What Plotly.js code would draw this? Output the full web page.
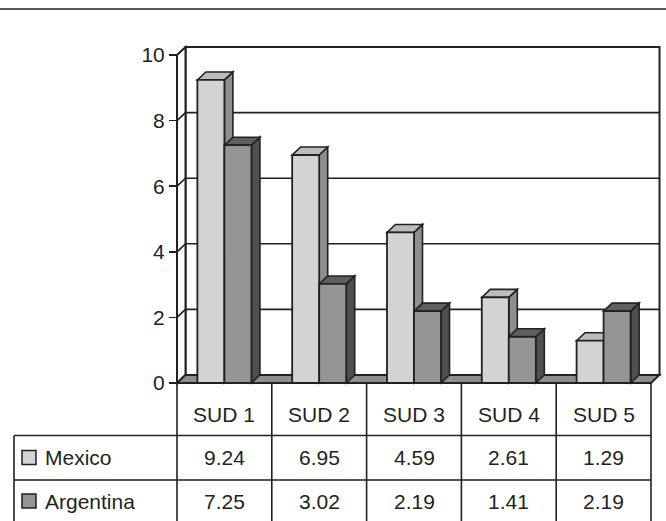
<!DOCTYPE html>
<html>
<head>
<meta charset="utf-8">
<script src="https://cdn.plot.ly/plotly-3.0.1.min.js"></script>
<style>
  html, body { margin: 0; padding: 0; background: #fff; }
  #chart { width: 666px; height: 521px; }
</style>
</head>
<body>
<div id="chart"></div>
<script>
// ---- data ----
const categories = ['SUD 1', 'SUD 2', 'SUD 3', 'SUD 4', 'SUD 5'];
const mexico = [9.24, 6.95, 4.59, 2.61, 1.29];
const argentina = [7.25, 3.02, 2.19, 1.41, 2.19];
const seriesNames = ['Mexico', 'Argentina'];
const yTicks = [0, 2, 4, 6, 8, 10];

// ---- styling ----
const EDGE = '#222022';
const TEXT = '#231f20';
const FONT = 'Liberation Sans, Arial, sans-serif';
const FONT_SIZE = 21;
const palette = [
  { front: '#d3d3d5', top: '#bcbcbe', side: '#8e8e90' },
  { front: '#959597', top: '#5f5f61', side: '#4f4f51' }
];
const FLOOR = '#8e8e90';

// ---- geometry (pixels) ----
const W = 666, H = 521;
const FRONT_L = 177, FRONT_R = 651;     // front edge of the plot box
const BASE_Y = 383, TOP_Y = 55;          // front y of value 0 and of the max tick
const YMAX = 10;
const DEPTH_X = 8.5, DEPTH_Y = 8;        // 3-D depth offset
const PAD = 5;
const BAR_W = 0.285;                     // width of one bar, in category units

const N = categories.length;
const catPx = (FRONT_R - FRONT_L) / N;
const unitPx = (BASE_Y - TOP_Y) / YMAX;
const DX = DEPTH_X / catPx, DY = DEPTH_Y / unitPx;
const X0 = -0.5, X1 = N - 0.5;
const xRange = [X0 - PAD / catPx, X1 + (DEPTH_X + PAD) / catPx];
const yRange = [-PAD / unitPx, YMAX + (DEPTH_Y + PAD) / unitPx];
const xDomain = [(FRONT_L - PAD) / W, (FRONT_R + DEPTH_X + PAD) / W];
const yDomain = [(H - BASE_Y - PAD) / H, (H - TOP_Y + DEPTH_Y + PAD) / H];

const idx = categories.map((_, i) => i);
const seriesValues = [mexico, argentina];
const offsets = [-BAR_W, 0];

const xToPaper = v => xDomain[0] + (v - xRange[0]) / (xRange[1] - xRange[0]) * (xDomain[1] - xDomain[0]);
const pyPaper = p => (H - p) / H;
const pxPaper = p => p / W;

// ---- front faces of the bars ----
const traces = seriesValues.map((vals, s) => ({
  type: 'bar',
  name: seriesNames[s],
  x: idx,
  y: vals,
  width: BAR_W,
  offset: offsets[s],
  marker: { color: palette[s].front, line: { color: EDGE, width: 1.8 } },
  hoverinfo: 'skip'
}));

// ---- box: walls, floor, gridlines ----
const shapes = [];
const pathOf = pts => 'M ' + pts.map(p => p[0] + ',' + p[1]).join(' L ') + ' Z';
const openPath = pts => 'M ' + pts.map(p => p[0] + ',' + p[1]).join(' L ');

shapes.push({ type: 'rect', xref: 'x', yref: 'y', layer: 'below',
  x0: X0 + DX, x1: X1 + DX, y0: DY, y1: YMAX + DY,
  fillcolor: '#ffffff', line: { color: EDGE, width: 2 } });
shapes.push({ type: 'path', xref: 'x', yref: 'y', layer: 'below',
  path: pathOf([[X0, 0], [X0 + DX, DY], [X0 + DX, YMAX + DY], [X0, YMAX]]),
  fillcolor: '#ffffff', line: { color: EDGE, width: 2 } });
yTicks.filter(v => v > 0 && v < YMAX).forEach(v => {
  shapes.push({ type: 'path', xref: 'x', yref: 'y', layer: 'below',
    path: openPath([[X0, v], [X0 + DX, v + DY], [X1 + DX, v + DY]]),
    line: { color: EDGE, width: 1.6 } });
});
shapes.push({ type: 'path', xref: 'x', yref: 'y', layer: 'below',
  path: pathOf([[X0, 0], [X1, 0], [X1 + DX, DY], [X0 + DX, DY]]),
  fillcolor: FLOOR, line: { color: EDGE, width: 1.8 } });
shapes.push({ type: 'line', xref: 'x', yref: 'y', layer: 'below',
  x0: X0, x1: X0, y0: 0, y1: YMAX, line: { color: EDGE, width: 2 } });

// ---- top and side faces of the bars ----
seriesValues.forEach((vals, s) => {
  vals.forEach((h, k) => {
    const xl = k + offsets[s], xr = xl + BAR_W;
    shapes.push({ type: 'path', xref: 'x', yref: 'y', layer: 'below',
      path: pathOf([[xr, 0], [xr + DX, DY], [xr + DX, h + DY], [xr, h]]),
      fillcolor: palette[s].side, line: { color: EDGE, width: 1.6 } });
    shapes.push({ type: 'path', xref: 'x', yref: 'y', layer: 'below',
      path: pathOf([[xl, h], [xr, h], [xr + DX, h + DY], [xl + DX, h + DY]]),
      fillcolor: palette[s].top, line: { color: EDGE, width: 1.6 } });
  });
});

// ---- data table under the plot ----
const HEAD_TOP = BASE_Y, HEAD_BOT = 435.5, ROW1_BOT = 480, TABLE_BOT = H + 4;
const TABLE_L = 14;
const rowCenters = [457.5, 501];
const tableLine = { color: EDGE, width: 1.6 };

for (let k = 0; k <= N; k++) {
  const xp = xToPaper(X0 + k);
  shapes.push({ type: 'line', xref: 'paper', yref: 'paper',
    x0: xp, x1: xp, y0: pyPaper(HEAD_TOP), y1: pyPaper(TABLE_BOT), line: tableLine });
}
shapes.push({ type: 'line', xref: 'paper', yref: 'paper',
  x0: pxPaper(TABLE_L), x1: pxPaper(TABLE_L), y0: pyPaper(HEAD_BOT), y1: pyPaper(TABLE_BOT), line: tableLine });
[HEAD_BOT, ROW1_BOT].forEach(yp => {
  shapes.push({ type: 'line', xref: 'paper', yref: 'paper',
    x0: pxPaper(TABLE_L), x1: xToPaper(X1), y0: pyPaper(yp), y1: pyPaper(yp), line: tableLine });
});
// rule across the top of the figure
shapes.push({ type: 'line', xref: 'paper', yref: 'paper',
  x0: 0, x1: 1, y0: pyPaper(9), y1: pyPaper(9), line: { color: EDGE, width: 1.5 } });

const annotations = [];
const textFont = { family: FONT, size: FONT_SIZE, color: TEXT };
categories.forEach((c, k) => {
  annotations.push({ xref: 'x', yref: 'paper', x: k, y: pyPaper(414),
    text: c, showarrow: false, xanchor: 'center', yanchor: 'middle', font: textFont });
});
seriesValues.forEach((vals, s) => {
  const cy = rowCenters[s];
  // legend key
  shapes.push({ type: 'rect', xref: 'paper', yref: 'paper',
    x0: pxPaper(22), x1: pxPaper(36), y0: pyPaper(cy - 7), y1: pyPaper(cy + 7),
    fillcolor: palette[s].front, line: { color: EDGE, width: 1.5 } });
  annotations.push({ xref: 'paper', yref: 'paper', x: pxPaper(43), y: pyPaper(cy),
    text: seriesNames[s], showarrow: false, xanchor: 'left', yanchor: 'middle', font: textFont });
  vals.forEach((v, k) => {
    annotations.push({ xref: 'x', yref: 'paper', x: k, y: pyPaper(cy),
      text: v.toFixed(2), showarrow: false, xanchor: 'center', yanchor: 'middle', font: textFont });
  });
});

const layout = {
  width: W, height: H,
  margin: { l: 0, r: 0, t: 0, b: 0 },
  paper_bgcolor: '#ffffff',
  plot_bgcolor: 'rgba(0,0,0,0)',
  showlegend: false,
  barmode: 'overlay',
  font: textFont,
  xaxis: { range: xRange, domain: xDomain, visible: false, fixedrange: true },
  yaxis: {
    range: yRange, domain: yDomain, anchor: 'free', position: FRONT_L / W, side: 'left',
    tickvals: yTicks, ticktext: yTicks.map(String),
    ticks: 'outside', ticklen: 8, tickwidth: 1.6, tickcolor: EDGE,
    showline: false, showgrid: false, zeroline: false, automargin: false,
    tickfont: textFont, fixedrange: true
  },
  shapes: shapes,
  annotations: annotations
};

Plotly.newPlot('chart', traces, layout, { staticPlot: true, displayModeBar: false });
</script>
</body>
</html>
